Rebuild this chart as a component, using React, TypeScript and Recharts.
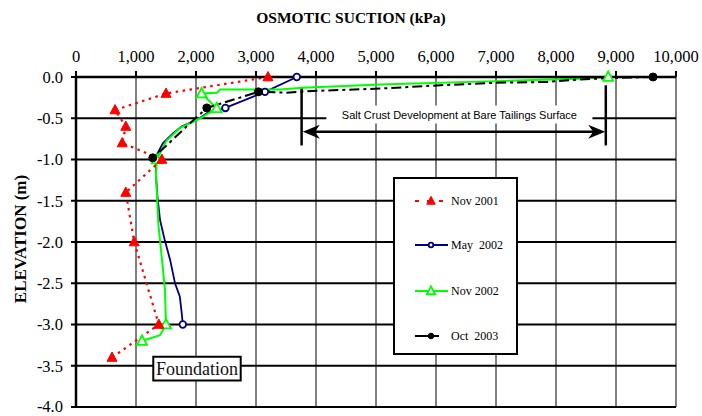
import React from "react";
import {
	LineChart,
	Line,
	XAxis,
	YAxis,
	CartesianGrid,
	Legend,
	ReferenceLine,
	ReferenceArea,
	ReferenceDot,
} from "recharts";

// axis ticks
const xTicks = [0, 1000, 2000, 3000, 4000, 5000, 6000, 7000, 8000, 9000, 10000];
const yTicks = [0, -0.5, -1, -1.5, -2, -2.5, -3, -3.5, -4];

// Nov 2001 profile (every point has a marker)
const nov2001Suction = [3200, 1500, 650, 830, 770, 1430, 830, 970, 1380, 600];
const nov2001Elevation = [0, -0.2, -0.4, -0.6, -0.8, -1.0, -1.4, -2.0, -3.0, -3.4];

// May 2002 profile
const may2002Suction = [
	3680, 3150, 2490, 2180, 2010, 1760, 1620, 1450, 1370, 1330, 1330, 1355, 1400,
	1480, 1570, 1650, 1730, 1760, 1780,
];
const may2002Elevation = [
	0, -0.18, -0.375, -0.44, -0.52, -0.6, -0.68, -0.8, -0.91, -1.0, -1.17, -1.43,
	-1.73, -1.98, -2.22, -2.5, -2.66, -2.85, -3.0,
];
const may2002Markers = [0, 1, 2, 18];

// Nov 2002 profile
const nov2002Suction = [
	8870, 8400, 7000, 5070, 3780, 3400, 2400, 2350, 2094, 2344, 2070, 1730, 1510,
	1345, 1333, 1372, 1428, 1483, 1500, 1400, 1100,
];
const nov2002Elevation = [
	0, -0.02, -0.05, -0.09, -0.13, -0.15, -0.15, -0.19, -0.2, -0.38, -0.5, -0.62,
	-0.77, -1.0, -1.17, -1.78, -2.18, -2.58, -3.0, -3.13, -3.2,
];
const nov2002Markers = [0, 8, 9, 13, 18, 20];

// Oct 2003 profile
const oct2003Suction = [
	9617, 9000, 8400, 7840, 7000, 6070, 5070, 3950, 3500, 3040, 2180, 1900, 1510, 1280,
];
const oct2003Elevation = [
	0, -0.01, -0.03, -0.06, -0.07, -0.1, -0.14, -0.17, -0.19, -0.18, -0.375, -0.56,
	-0.83, -0.98,
];
const oct2003Markers = [0, 9, 10, 13];

const toPoints = (xs: number[], ys: number[], marks?: number[]) =>
	xs.map((x, i) => ({ x, y: ys[i], m: marks ? marks.includes(i) : true }));

type Marker = "triFilled" | "triOpen" | "circleOpen" | "circleFilled";

const drawMarker = (kind: Marker, color: string, cx: number, cy: number, s = 1) => {
	if (kind === "triFilled" || kind === "triOpen") {
		const pts = `${cx},${cy - 5.5 * s} ${cx - 5 * s},${cy + 3.8 * s} ${cx + 5 * s},${cy + 3.8 * s}`;
		return kind === "triFilled" ? (
			<polygon points={pts} fill={color} stroke={color} strokeWidth={1} />
		) : (
			<polygon points={pts} fill="#fff" stroke={color} strokeWidth={1.8} />
		);
	}
	if (kind === "circleOpen")
		return <circle cx={cx} cy={cy} r={3.3 * s} fill="#fff" stroke={color} strokeWidth={1.8} />;
	return <circle cx={cx} cy={cy} r={4 * s} fill={color} stroke={color} />;
};

const series = [
	{
		name: "May 2002",
		color: "#000080",
		dash: undefined,
		width: 1.8,
		marker: "circleOpen" as Marker,
		data: toPoints(may2002Suction, may2002Elevation, may2002Markers),
	},
	{
		name: "Nov 2002",
		color: "#00ff00",
		dash: undefined,
		width: 2,
		marker: "triOpen" as Marker,
		data: toPoints(nov2002Suction, nov2002Elevation, nov2002Markers),
	},
	{
		name: "Oct 2003",
		color: "#000000",
		dash: "10 4 3 4",
		width: 2,
		marker: "circleFilled" as Marker,
		data: toPoints(oct2003Suction, oct2003Elevation, oct2003Markers),
	},
	{
		name: "Nov 2001",
		color: "#ff0000",
		dash: "2.5 4.5",
		width: 2.2,
		marker: "triFilled" as Marker,
		data: toPoints(nov2001Suction, nov2001Elevation),
	},
];

const legendOrder = ["Nov 2001", "May 2002", "Nov 2002", "Oct 2003"];
const legendRowCenters = [22, 66, 112, 157];

const serif = "'Liberation Serif', 'Times New Roman', serif";

const renderLegend = () => (
	<div
		style={{
			position: "relative",
			width: 125,
			height: 178,
			boxSizing: "border-box",
			border: "2px solid #000",
			background: "#fff",
		}}>
		{legendOrder.map((name, i) => {
			const s = series.find((d) => d.name === name)!;
			return (
				<div
					key={name}
					style={{
						position: "absolute",
						left: 18,
						top: legendRowCenters[i] - 9,
						height: 18,
						display: "flex",
						alignItems: "center",
						fontFamily: serif,
						fontSize: 12,
						color: "#000",
						whiteSpace: "pre",
					}}>
					<svg width={36} height={14} style={{ marginRight: 2 }}>
						<line
							x1={2}
							y1={7}
							x2={35}
							y2={7}
							stroke={s.color}
							strokeWidth={s.width}
							strokeDasharray={s.name === "Nov 2001" ? "4 8" : s.name === "Oct 2003" ? "14 4 6 20" : undefined}
						/>
						{drawMarker(s.marker, s.color, 18, 7, s.marker.startsWith("circle") ? 0.7 : 0.85)}
					</svg>
					{s.name === "May 2002" || s.name === "Oct 2003"
						? s.name.replace(" ", "  ")
						: s.name}
				</div>
			);
		})}
	</div>
);

// double headed arrow for the salt crust annotation
const ArrowShape = (props: any) => {
	const { x1, y1, x2, y2 } = props;
	const y = (y1 + y2) / 2;
	return (
		<g>
			<line x1={x1 + 8} y1={y} x2={x2 - 8} y2={y} stroke="#000" strokeWidth={2.5} />
			<polygon
				points={`${x1},${y} ${x1 + 17},${y - 7} ${x1 + 12},${y} ${x1 + 17},${y + 7}`}
				fill="#000"
			/>
			<polygon
				points={`${x2},${y} ${x2 - 17},${y - 7} ${x2 - 12},${y} ${x2 - 17},${y + 7}`}
				fill="#000"
			/>
		</g>
	);
};

const SaltLabel = (props: any) => {
	const { cx, cy } = props;
	return (
		<g>
			<rect x={cx - 133} y={cy - 9} width={266} height={18} fill="#fff" />
			<text
				x={cx}
				y={cy + 4}
				textAnchor="middle"
				fontFamily="'Liberation Sans', Arial, sans-serif"
				fontSize={11}
				fill="#000">
				Salt Crust Development at Bare Tailings Surface
			</text>
		</g>
	);
};

const App: React.FC = () => {
	return (
		<div style={{ position: "absolute", left: 0, top: 0, width: 702, height: 416, background: "#fff" }}>
			<div
				style={{
					position: "absolute",
					left: 0,
					top: 8,
					width: 702,
					textAlign: "center",
					fontFamily: serif,
					fontWeight: "bold",
					fontSize: 15.5,
					lineHeight: "20px",
				}}>
				OSMOTIC SUCTION (kPa)
			</div>
			<div
				style={{
					position: "absolute",
					left: 21 - 100,
					top: 239 - 10,
					width: 200,
					height: 20,
					lineHeight: "20px",
					textAlign: "center",
					transform: "rotate(-90deg)",
					fontFamily: serif,
					fontWeight: "bold",
					fontSize: 17,
				}}>
				ELEVATION (m)
			</div>
			<LineChart
				width={702}
				height={416}
				margin={{ top: 0, right: 26, bottom: 9, left: 0 }}
				style={{ position: "absolute", left: 0, top: 0 }}>
				{/* thick horizontal grid, thin vertical grid */}
				<CartesianGrid stroke="#000" strokeWidth={2} vertical={false} />
				<CartesianGrid stroke="#000" strokeWidth={1} horizontal={false} />
				<XAxis
					type="number"
					dataKey="x"
					orientation="top"
					height={77}
					domain={[0, 10000]}
					ticks={xTicks}
					tickFormatter={(v: number) => v.toLocaleString("en-US")}
					tick={{ fill: "#000", fontSize: 16.5, fontFamily: serif }}
					tickLine={{ stroke: "#000", strokeWidth: 2 }}
					tickSize={6}
					tickMargin={9}
					axisLine={{ stroke: "#000", strokeWidth: 2.5 }}
				/>
				<YAxis
					type="number"
					width={76}
					domain={[-4, 0]}
					ticks={yTicks}
					tickFormatter={(v: number) => v.toFixed(1)}
					tick={{ fill: "#000", fontSize: 16.5, fontFamily: serif }}
					tickLine={{ stroke: "#000", strokeWidth: 2 }}
					tickSize={5}
					tickMargin={8}
					axisLine={{ stroke: "#000", strokeWidth: 2.5 }}
				/>
				<ReferenceLine
					segment={[
						{ x: 3760, y: -0.12 },
						{ x: 3760, y: -0.83 },
					]}
					stroke="#000"
					strokeWidth={2.5}
				/>
				<ReferenceLine
					segment={[
						{ x: 8830, y: -0.1 },
						{ x: 8830, y: -0.83 },
					]}
					stroke="#000"
					strokeWidth={2.5}
				/>
				<ReferenceLine
					segment={[
						{ x: 3780, y: -0.665 },
						{ x: 8820, y: -0.665 },
					]}
					shape={ArrowShape}
				/>
				<ReferenceDot x={6390} y={-0.455} r={0} shape={SaltLabel} />
				<ReferenceArea
					x1={1288}
					x2={2745}
					y1={-3.68}
					y2={-3.39}
					fill="#fff"
					fillOpacity={1}
					stroke="#000"
					strokeWidth={2}
					label={{
						value: "Foundation",
						position: "center",
						fill: "#111",
						fontSize: 18,
						fontFamily: serif,
					}}
				/>
				{series.map((s) => (
					<Line
						key={s.name}
						name={s.name}
						data={s.data}
						dataKey="y"
						type="linear"
						stroke={s.color}
						strokeWidth={s.width}
						strokeDasharray={s.dash}
						isAnimationActive={false}
						activeDot={false}
						dot={(p: any) =>
							p.payload.m ? (
								<g key={`${s.name}-${p.index}`}>{drawMarker(s.marker, s.color, p.cx, p.cy)}</g>
							) : (
								<g key={`${s.name}-${p.index}`} />
							)
						}
					/>
				))}
				<Legend
					layout="vertical"
					align="center"
					verticalAlign="middle"
					content={renderLegend}
					wrapperStyle={{ left: 393, top: 177, width: 125, height: 178 }}
				/>
			</LineChart>
		</div>
	);
};

export default App;
